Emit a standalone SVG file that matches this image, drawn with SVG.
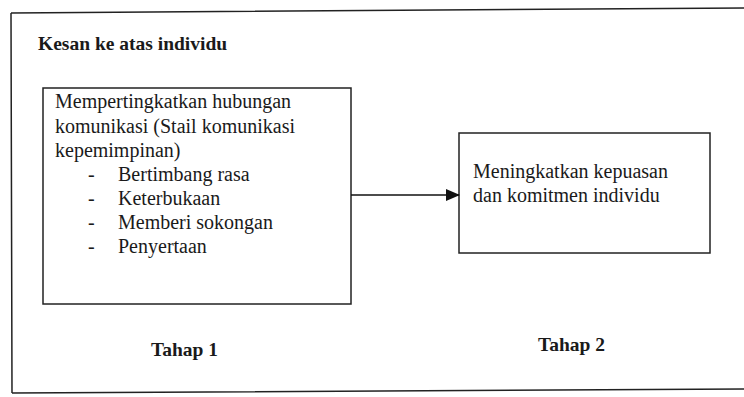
<svg xmlns="http://www.w3.org/2000/svg" width="744" height="397" viewBox="0 0 744 397">
<defs>
<style>
.t{font-family:"Liberation Serif","Times New Roman",serif;font-size:20px;fill:#1a1a1a}
.b{font-family:"Liberation Serif","Times New Roman",serif;font-size:19.5px;font-weight:bold;fill:#1a1a1a}
.box{fill:none;stroke:#222;stroke-width:1.5}
</style>
<marker id="ah" markerWidth="14" markerHeight="12" refX="13" refY="6" orient="auto" markerUnits="userSpaceOnUse">
<path d="M0,0 L14,6 L0,12 Z" fill="#111"/>
</marker>
</defs>
<rect width="744" height="397" fill="#fff"/>
<g id="frame">
<path d="M11,13 L744,8 M11,13 L12,393 M12,393 L744,389" fill="none" stroke="#222" stroke-width="1.5"/>
</g>
<g id="title"><text class="b" x="38" y="50">Kesan ke atas individu</text></g>
<g id="tahap1">
<rect class="box" x="43" y="88" width="308" height="216"/>
<text class="t" x="55" y="108">Mempertingkatkan hubungan</text>
<text class="t" x="55" y="133">komunikasi (Stail komunikasi</text>
<text class="t" x="55" y="157">kepemimpinan)</text>
<text class="t" x="88" y="181">-</text><text class="t" x="118" y="181">Bertimbang rasa</text>
<text class="t" x="88" y="205">-</text><text class="t" x="118" y="205">Keterbukaan</text>
<text class="t" x="88" y="229">-</text><text class="t" x="118" y="229">Memberi sokongan</text>
<text class="t" x="88" y="253">-</text><text class="t" x="118" y="253">Penyertaan</text>
</g>
<g id="tahap2">
<rect class="box" x="459" y="133" width="251" height="120"/>
<text class="t" x="473" y="178">Meningkatkan kepuasan</text>
<text class="t" x="473" y="202">dan komitmen individu</text>
</g>
<g id="connectors">
<line x1="351" y1="195" x2="459" y2="195" stroke="#111" stroke-width="1.5" marker-end="url(#ah)"/>
</g>
<g id="labels">
<text class="b" x="151" y="356">Tahap 1</text>
<text class="b" x="538" y="351">Tahap 2</text>
</g>
</svg>
